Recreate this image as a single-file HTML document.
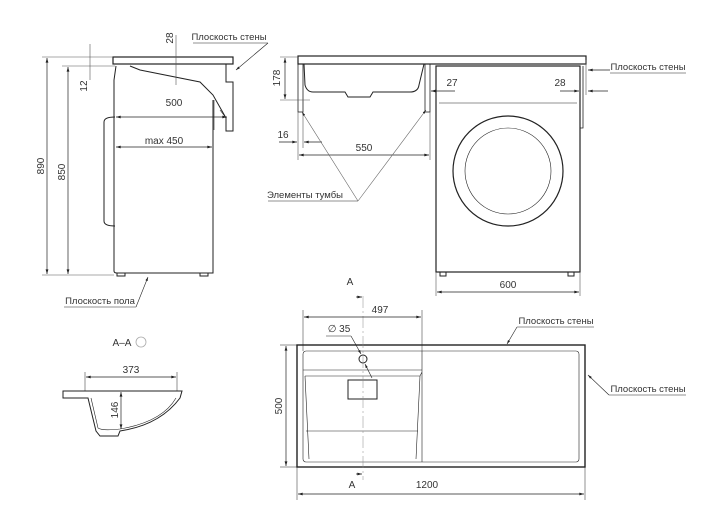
<!DOCTYPE html>
<html><head><meta charset="utf-8"><style>
html,body{margin:0;padding:0;background:#fff;width:720px;height:531px;overflow:hidden}
svg{display:block}
text{font-family:"Liberation Sans",sans-serif;font-size:10px;fill:#333}
.s{font-size:9.5px}
</style></head><body>
<svg width="720" height="531" viewBox="0 0 720 531" xmlns="http://www.w3.org/2000/svg">
<defs>
<marker id="a" viewBox="0 0 10 6" refX="10" refY="3" markerWidth="7" markerHeight="4" orient="auto-start-reverse"><path d="M0,0 L10,3 L0,6z" fill="#222"/></marker>
</defs>
<g fill="none" stroke="#222" stroke-width="1">
<!-- LEFT SIDE VIEW -->
<rect x="113" y="57" width="120" height="7" stroke-width="1.2"/>
<path d="M226,64 V82 H233 V131 H226 V118 L213,95 L200,82 L140,70 L130,66" />
<path d="M116,66 L114,80 L114,271 Q114,273 117,273 L213,273 V100"/>
<path d="M115,117 Q104,117 104,122 V221 Q104,226 115,226"/>
<path d="M117,273 V276 H125 V273 M200,273 V276 H208 V273"/>
<path d="M214,100 V130 M220,110 L226,118" stroke-width="0.6"/>
<g stroke-width="0.6" stroke="#555">
<line x1="42" y1="57" x2="113" y2="57"/><line x1="62" y1="66" x2="115" y2="66"/><line x1="42" y1="275" x2="114" y2="275"/>
<line x1="90" y1="44" x2="90" y2="80"/>
<line x1="176" y1="35" x2="176" y2="85"/>
</g>
<line x1="47" y1="58" x2="47" y2="274" marker-start="url(#a)" marker-end="url(#a)" stroke-width="0.7"/>
<line x1="68" y1="67" x2="68" y2="274" marker-start="url(#a)" marker-end="url(#a)" stroke-width="0.7"/>
<line x1="116" y1="117" x2="227" y2="117" marker-start="url(#a)" marker-end="url(#a)" stroke-width="0.7"/>
<line x1="116" y1="147" x2="212" y2="147" marker-start="url(#a)" marker-end="url(#a)" stroke-width="0.7"/>
<line x1="193" y1="43" x2="268" y2="43" stroke-width="0.6"/>
<line x1="268" y1="43" x2="236" y2="70" marker-end="url(#a)" stroke-width="0.6"/>
<line x1="64" y1="307" x2="136" y2="307" stroke-width="0.6"/>
<line x1="136" y1="307" x2="148" y2="277" marker-end="url(#a)" stroke-width="0.6"/>

<!-- FRONT VIEW -->
<rect x="298" y="56" width="288" height="8" stroke-width="1.2"/>
<path d="M304,64 L305,85 Q307,92 313,92 L345,92 L348,97 L370,97 L373,92 L410,92 Q418,92 419,85 L424,64"/>
<rect x="298" y="64" width="5" height="48" stroke-width="0.8"/>
<rect x="425" y="64" width="5" height="48" stroke-width="0.8"/>
<rect x="436" y="66" width="144" height="206" stroke-width="1.2"/>
<line x1="439" y1="103" x2="577" y2="103" stroke-width="0.6"/>
<circle cx="508" cy="171" r="55" stroke-width="1.2"/>
<circle cx="508" cy="171" r="43" stroke-width="0.6"/>
<path d="M440,272 V276 H446 V272 M568,272 V276 H574 V272"/>
<path d="M580,66 V128 H583 V66" stroke-width="0.8"/>
<g stroke-width="0.6" stroke="#555">
<line x1="280" y1="57" x2="298" y2="57"/><line x1="280" y1="100" x2="310" y2="100"/>
<line x1="298" y1="112" x2="298" y2="160"/><line x1="430" y1="112" x2="430" y2="160"/><line x1="303" y1="112" x2="303" y2="148"/>
<line x1="436" y1="272" x2="436" y2="296"/><line x1="580" y1="272" x2="580" y2="296"/>
<line x1="586" y1="60" x2="586" y2="95"/>
</g>
<line x1="285" y1="58" x2="285" y2="99" marker-start="url(#a)" marker-end="url(#a)" stroke-width="0.7"/>
<line x1="279" y1="142" x2="297" y2="142" marker-end="url(#a)" stroke-width="0.7"/>
<line x1="322" y1="142" x2="304" y2="142" marker-end="url(#a)" stroke-width="0.7"/>
<line x1="299" y1="155" x2="429" y2="155" marker-start="url(#a)" marker-end="url(#a)" stroke-width="0.7"/>
<line x1="437" y1="292" x2="579" y2="292" marker-start="url(#a)" marker-end="url(#a)" stroke-width="0.7"/>
<line x1="455" y1="91" x2="431" y2="91" marker-end="url(#a)" stroke-width="0.7"/>
<line x1="560" y1="91" x2="579" y2="91" marker-end="url(#a)" stroke-width="0.7"/>
<line x1="608" y1="91" x2="588" y2="91" marker-end="url(#a)" stroke-width="0.7"/>
<line x1="610" y1="70" x2="588" y2="70" marker-end="url(#a)" stroke-width="0.7"/>
<line x1="268" y1="201" x2="358" y2="201" stroke-width="0.6"/>
<line x1="358" y1="201" x2="302" y2="112" marker-end="url(#a)" stroke-width="0.6" stroke="#666"/>
<line x1="358" y1="201" x2="426" y2="110" marker-end="url(#a)" stroke-width="0.6" stroke="#666"/>
<line x1="610" y1="73" x2="686" y2="73" stroke-width="0.5"/>

<!-- SECTION A-A -->
<circle cx="141" cy="342" r="5" stroke="#aaa" stroke-width="0.8"/>
<path d="M63,391 H182 L180,398 Q160,425 120,431 L118,436 H100 L96,431 L88,398 H63 Z" stroke-width="1"/>
<path d="M91,398 L98,428 Q102,431 120,429 Q162,422 176,398" stroke-width="0.6"/>
<line x1="86" y1="377" x2="176" y2="377" marker-start="url(#a)" marker-end="url(#a)" stroke-width="0.7"/>
<line x1="85" y1="372" x2="85" y2="391" stroke-width="0.5"/><line x1="177" y1="372" x2="177" y2="391" stroke-width="0.5"/>
<line x1="121" y1="392" x2="121" y2="429" marker-start="url(#a)" marker-end="url(#a)" stroke-width="0.7"/>

<!-- TOP VIEW -->
<rect x="297" y="345" width="288" height="122" stroke-width="1.4"/>
<rect x="303" y="351" width="276" height="111" rx="3" stroke-width="0.6"/>
<path d="M303,370 H422 M305,376 H420 L422,372 M422,351 V462 M306,431 H418 M305,376 L309,459 M420,376 L416,459" stroke-width="0.6"/>
<rect x="348" y="380" width="29" height="19" stroke-width="1"/>
<circle cx="363" cy="359" r="4" stroke-width="1"/>
<line x1="363" y1="296" x2="363" y2="480" stroke="#888" stroke-width="0.5" stroke-dasharray="12,3,2,3"/>
<line x1="303" y1="310" x2="303" y2="351" stroke-width="0.5"/><line x1="422" y1="310" x2="422" y2="351" stroke-width="0.5"/>
<line x1="304" y1="317" x2="421" y2="317" marker-start="url(#a)" marker-end="url(#a)" stroke-width="0.7"/>
<line x1="326" y1="336" x2="351" y2="336" stroke-width="0.5"/>
<line x1="351" y1="336" x2="361" y2="354" marker-end="url(#a)" stroke-width="0.6"/>
<line x1="372" y1="378" x2="365" y2="364" marker-end="url(#a)" stroke-width="0.6"/>
<line x1="356" y1="297" x2="362" y2="297" marker-end="url(#a)" stroke-width="0.7"/>
<line x1="356" y1="474" x2="362" y2="474" marker-end="url(#a)" stroke-width="0.7"/>
<line x1="280" y1="345" x2="297" y2="345" stroke-width="0.5"/><line x1="280" y1="467" x2="297" y2="467" stroke-width="0.5"/>
<line x1="286" y1="346" x2="286" y2="466" marker-start="url(#a)" marker-end="url(#a)" stroke-width="0.7"/>
<line x1="297" y1="467" x2="297" y2="500" stroke-width="0.5"/><line x1="585" y1="467" x2="585" y2="500" stroke-width="0.5"/>
<line x1="298" y1="494" x2="584" y2="494" marker-start="url(#a)" marker-end="url(#a)" stroke-width="0.7"/>
<line x1="517" y1="327" x2="594" y2="327" stroke-width="0.5"/>
<line x1="517" y1="327" x2="507" y2="344" marker-end="url(#a)" stroke-width="0.6"/>
<line x1="609" y1="395" x2="686" y2="395" stroke-width="0.5"/>
<line x1="609" y1="395" x2="588" y2="375" marker-end="url(#a)" stroke-width="0.6"/>
</g>
<g>
<text x="229" y="40" text-anchor="middle" class="s">Плоскость стены</text>
<text x="100" y="304" text-anchor="middle" class="s">Плоскость пола</text>
<text x="174" y="106" text-anchor="middle">500</text>
<text x="164" y="144" text-anchor="middle">max 450</text>
<text transform="translate(44,166) rotate(-90)" text-anchor="middle">890</text>
<text transform="translate(65,172) rotate(-90)" text-anchor="middle">850</text>
<text transform="translate(87,86) rotate(-90)" text-anchor="middle">12</text>
<text transform="translate(173,38) rotate(-90)" text-anchor="middle">28</text>
<text transform="translate(280,78) rotate(-90)" text-anchor="middle">178</text>
<text x="283" y="138" text-anchor="middle">16</text>
<text x="364" y="151" text-anchor="middle">550</text>
<text x="452" y="86" text-anchor="middle">27</text>
<text x="560" y="86" text-anchor="middle">28</text>
<text x="648" y="70" text-anchor="middle" class="s">Плоскость стены</text>
<text x="305" y="198" text-anchor="middle" class="s">Элементы тумбы</text>
<text x="508" y="288" text-anchor="middle">600</text>
<text x="350" y="285" text-anchor="middle">A</text>
<text x="380" y="313" text-anchor="middle">497</text>
<text x="339" y="332" text-anchor="middle">∅ 35</text>
<text x="556" y="324" text-anchor="middle" class="s">Плоскость стены</text>
<text x="648" y="392" text-anchor="middle" class="s">Плоскость стены</text>
<text transform="translate(282,406) rotate(-90)" text-anchor="middle">500</text>
<text x="352" y="488" text-anchor="middle">A</text>
<text x="427" y="488" text-anchor="middle">1200</text>
<text x="122" y="346" text-anchor="middle">A–A</text>
<text x="131" y="373" text-anchor="middle">373</text>
<text transform="translate(118,410) rotate(-90)" text-anchor="middle">146</text>
</g>
</svg>
</body></html>
